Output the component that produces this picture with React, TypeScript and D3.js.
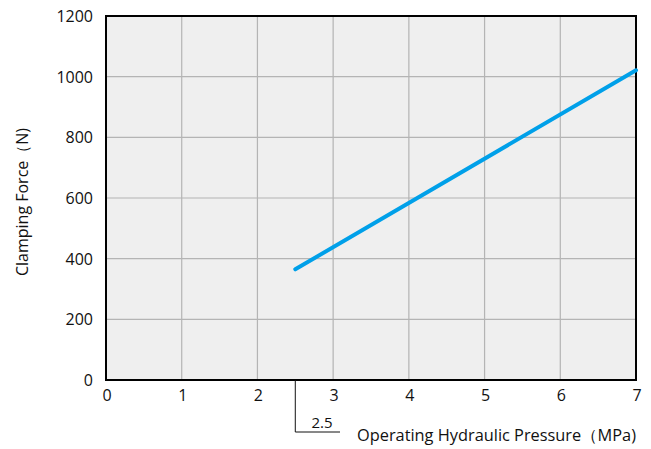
import React, { useEffect, useRef } from 'react';
import * as d3 from 'd3';

// axis ticks
const xTicks = [0, 1, 2, 3, 4, 5, 6, 7];
const yTicks = [0, 200, 400, 600, 800, 1000, 1200];

// clamping force line (pressure MPa, force N)
const pressure = [2.5, 7];
const force = [365, 1021];

const minPressure = 2.5;

const App = () => {
    const svgRef = useRef<SVGSVGElement | null>(null);

    useEffect(() => {
        if (!svgRef.current) return;
        const svg = d3.select(svgRef.current);
        svg.selectAll('*').remove();

        const margin = { left: 106, top: 16, right: 636, bottom: 380 };
        const x = d3.scaleLinear().domain([0, 7]).range([margin.left, margin.right]);
        const y = d3.scaleLinear().domain([0, 1200]).range([margin.bottom, margin.top]);
        const font = "'Open Sans', 'Noto Sans', sans-serif";

        // background
        svg.append('rect')
            .attr('x', x(0)).attr('y', y(1200))
            .attr('width', x(7) - x(0)).attr('height', y(0) - y(1200))
            .attr('fill', '#efefef');

        // grid
        svg.append('g').selectAll('line')
            .data(xTicks.slice(1, -1))
            .enter().append('line')
            .attr('x1', d => x(d)).attr('x2', d => x(d))
            .attr('y1', y(0)).attr('y2', y(1200))
            .attr('stroke', '#b4b4b4').attr('stroke-width', 1.2);
        svg.append('g').selectAll('line')
            .data(yTicks.slice(1, -1))
            .enter().append('line')
            .attr('x1', x(0)).attr('x2', x(7))
            .attr('y1', d => y(d)).attr('y2', d => y(d))
            .attr('stroke', '#b4b4b4').attr('stroke-width', 1.2);

        // border
        svg.append('rect')
            .attr('x', x(0)).attr('y', y(1200))
            .attr('width', x(7) - x(0)).attr('height', y(0) - y(1200))
            .attr('fill', 'none').attr('stroke', '#000').attr('stroke-width', 2);

        // data line
        const pts = pressure.map((p, i) => [p, force[i]] as [number, number]);
        svg.append('path')
            .datum(pts)
            .attr('d', d3.line<[number, number]>().x(d => x(d[0])).y(d => y(d[1])))
            .attr('fill', 'none')
            .attr('stroke', '#00a0e9')
            .attr('stroke-width', 4)
            .attr('stroke-linecap', 'round');

        // y tick labels
        svg.append('g').selectAll('text')
            .data(yTicks)
            .enter().append('text')
            .attr('x', 93)
            .attr('y', d => y(d) + 6)
            .attr('text-anchor', 'end')
            .style('font-family', font)
            .style('font-size', '16px')
            .attr('fill', '#111')
            .text(d => d);

        // x tick labels
        svg.append('g').selectAll('text')
            .data(xTicks)
            .enter().append('text')
            .attr('x', d => x(d) + 1)
            .attr('y', 401)
            .attr('text-anchor', 'middle')
            .style('font-family', font)
            .style('font-size', '16px')
            .attr('fill', '#111')
            .text(d => d);

        // 2.5 marker
        svg.append('path')
            .attr('d', `M${x(minPressure)},${y(0)}V432H340`)
            .attr('fill', 'none')
            .attr('stroke', '#111')
            .attr('stroke-width', 1);
        svg.append('text')
            .attr('x', 322)
            .attr('y', 428)
            .attr('text-anchor', 'middle')
            .style('font-family', font)
            .style('font-size', '15px')
            .attr('fill', '#111')
            .text(minPressure);

        // axis titles
        svg.append('text')
            .attr('x', 357)
            .attr('y', 441)
            .attr('textLength', 279)
            .attr('lengthAdjust', 'spacingAndGlyphs')
            .style('font-family', font)
            .style('font-size', '16px')
            .attr('fill', '#111')
            .text('Operating Hydraulic Pressure（MPa)');

        svg.append('text')
            .attr('transform', `translate(28,${(y(0) + y(1200)) / 2 + 4}) rotate(-90)`)
            .attr('text-anchor', 'middle')
            .style('font-family', font)
            .style('font-size', '16px')
            .attr('fill', '#111')
            .text('Clamping Force（N)');
    }, []);

    return (
        <svg ref={svgRef} width={651} height={449}
            style={{ position: 'absolute', left: 0, top: 0, background: '#fff' }} />
    );
};

export default App;
